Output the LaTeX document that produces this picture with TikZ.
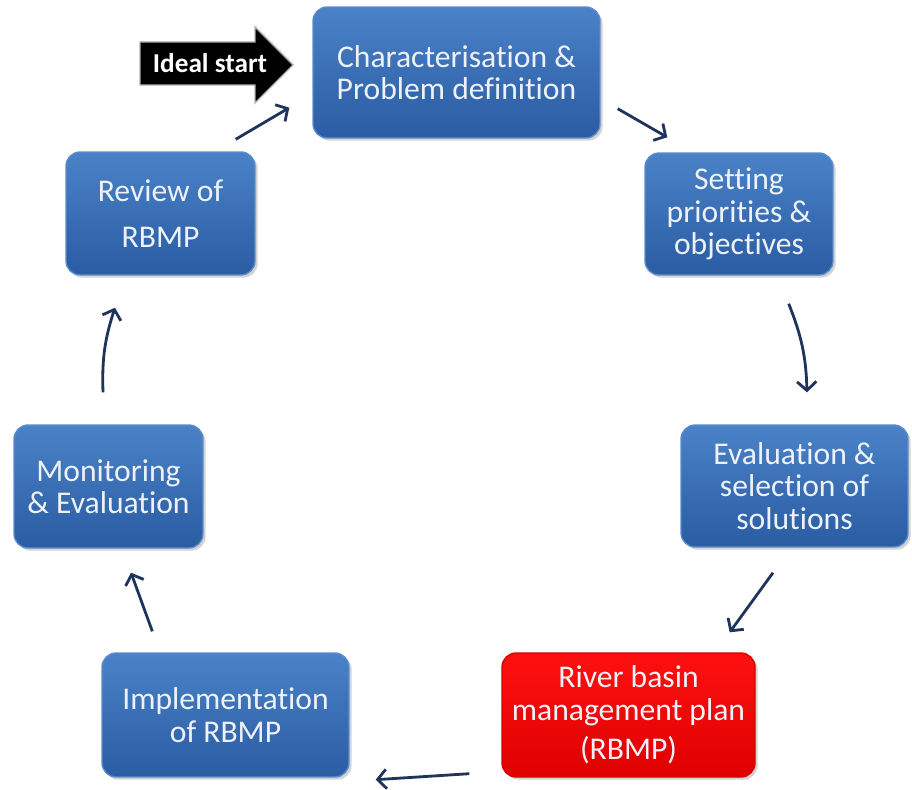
\documentclass[tikz,border=0pt]{standalone}
\usepackage{fontspec}
\setmainfont{Carlito}[Ligatures=NoCommon]
\usetikzlibrary{arrows.meta,shadows,positioning}

\definecolor{boxtop}{RGB}{74,130,200}
\definecolor{boxbot}{RGB}{42,92,162}
\definecolor{boxrim}{RGB}{90,140,205}
\definecolor{redtop}{RGB}{255,16,16}
\definecolor{redbot}{RGB}{222,0,0}
\definecolor{flowblue}{RGB}{30,52,92}
\definecolor{paletext}{RGB}{238,242,248}

\tikzset{
  stage/.style={rectangle, rounded corners=8pt, draw=boxrim, line width=0.8pt,
    top color=boxtop, bottom color=boxbot, text=paletext, align=center,
    font=\fontsize{18}{18.5}\selectfont,
    drop shadow={opacity=0.35, shadow xshift=1.5pt, shadow yshift=-1.5pt}},
  plan/.style={stage, draw=red!85!black, top color=redtop, bottom color=redbot},
  flow/.style={draw=flowblue, line width=1.6pt,
    -{Straight Barb[length=5pt, width=11pt, line width=1.6pt]}},
}

\begin{document}
\begin{tikzpicture}[x=0.02cm, y=-0.02cm]
\useasboundingbox (0,0) rectangle (912,790);

% stages of the cycle
\node[stage, minimum width=5.74cm, minimum height=2.62cm] (char) at (456.5,72.5) {Characterisation \&\\Problem definition};
\node[stage, minimum width=3.76cm, minimum height=2.44cm] (setting) at (739,214) {Setting\\priorities \&\\objectives};
\node[stage, minimum width=4.54cm, minimum height=2.44cm] (eval) at (794.5,486) {Evaluation \&\\selection of\\solutions};
\node[plan, minimum width=5.06cm, minimum height=2.48cm] (rbmp) at (628.5,715) {River basin\\management plan\\[4pt](RBMP)};
\node[stage, minimum width=4.94cm, minimum height=2.48cm] (impl) at (225.5,715) {Implementation\\of RBMP};
\node[stage, minimum width=3.78cm, minimum height=2.46cm] (monitor) at (108.5,486.5) {Monitoring\\\& Evaluation};
\node[stage, minimum width=3.78cm, minimum height=2.46cm] (review) at (160.5,213.5) {Review of\\[8pt]RBMP};

% ideal start
\filldraw[fill=black, draw=gray!60, line width=0.8pt] (140,42) -- (255,42) -- (255,27) -- (293,65) -- (255,103) -- (255,85) -- (140,85) -- cycle;
\node[text=white, font=\fontsize{15.5}{17}\selectfont\bfseries] (ideal) at (210,63) {Ideal start};

% arrows
\draw[flow] ([shift={(-20,-12)}]review.north east) -- ([shift={(-23,-31)}]char.south west);
\draw[flow] ([shift={(17,-30)}]char.south east) -- ([shift={(23,-15)}]setting.north west);
\draw[flow] ([shift={(-45,28)}]setting.south east) to[bend left=10] ([shift={(12.5,-32)}]eval.north);
\draw[flow] ([shift={(-21.5,25)}]eval.south) -- ([shift={(-26,-20)}]rbmp.north east);
\draw[flow] ([shift={(-32,-4)}]rbmp.south west) -- ([shift={(26,2)}]impl.south east);
\draw[flow] ([shift={(51,-21)}]impl.north west) -- ([shift={(22.5,24)}]monitor.south);
\draw[flow] ([shift={(-5.5,-32)}]monitor.north) to[bend left=10] ([shift={(-45.5,32)}]review.south);
\end{tikzpicture}
\end{document}
